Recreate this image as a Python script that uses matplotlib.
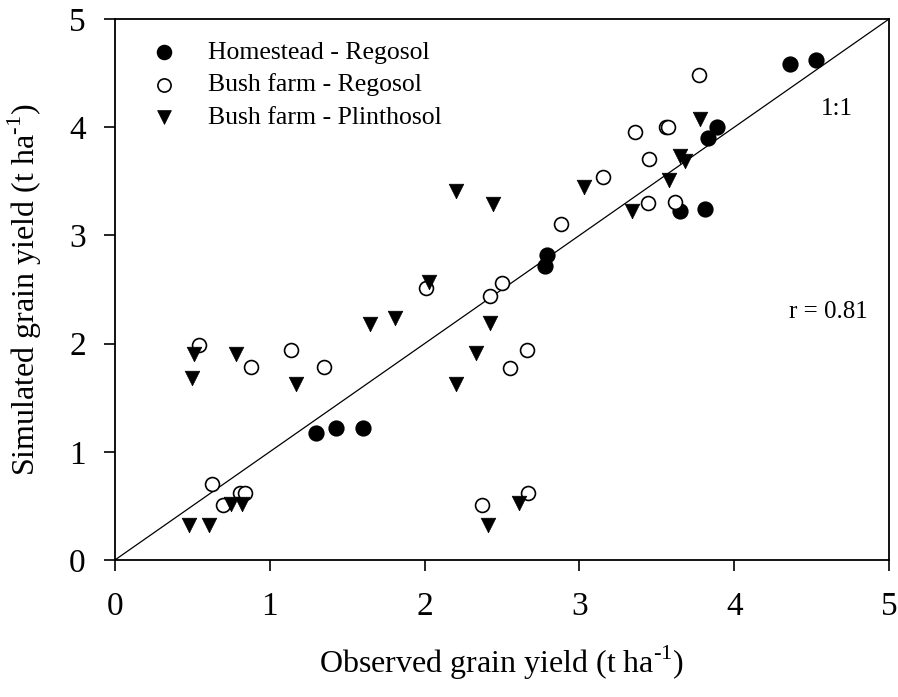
import matplotlib
matplotlib.use("Agg")
import matplotlib.pyplot as plt

plt.rcParams['font.family'] = ['Liberation Serif', 'DejaVu Serif']
plt.rcParams['mathtext.fontset'] = 'custom'
plt.rcParams['mathtext.rm'] = 'Liberation Serif'

# Homestead - Regosol
home_obs = [1.30, 1.43, 1.60, 2.78, 2.79, 3.65, 3.81, 3.83, 3.89, 4.36, 4.53]
home_sim = [1.17, 1.22, 1.22, 2.72, 2.82, 3.23, 3.24, 3.90, 4.00, 4.58, 4.62]

# Bush farm - Regosol
reg_obs = [0.54, 0.63, 0.70, 0.81, 0.84, 0.88, 1.14, 1.35, 2.01, 2.37, 2.42,
           2.50, 2.55, 2.66, 2.67, 2.88, 3.15, 3.36, 3.44, 3.45, 3.56, 3.57,
           3.62, 3.77]
reg_sim = [1.99, 0.70, 0.51, 0.62, 0.62, 1.78, 1.94, 1.78, 2.51, 0.51, 2.44,
           2.56, 1.77, 1.94, 0.62, 3.11, 3.54, 3.96, 3.30, 3.71, 4.00, 4.00,
           3.31, 4.48]

# Bush farm - Plinthosol
pli_obs = [0.48, 0.50, 0.51, 0.61, 0.75, 0.78, 0.82, 1.17, 1.65, 1.81, 2.03,
           2.20, 2.20, 2.33, 2.41, 2.42, 2.44, 2.61, 3.03, 3.34, 3.58, 3.65,
           3.68, 3.78]
pli_sim = [0.32, 1.68, 1.90, 0.32, 0.52, 1.90, 0.52, 1.63, 2.18, 2.24, 2.57,
           3.41, 1.63, 1.91, 0.32, 2.19, 3.29, 0.53, 3.45, 3.23, 3.51, 3.73,
           3.69, 4.08]

fig = plt.figure(figsize=(8.98, 6.97), dpi=100)
ax = fig.add_axes([0.128, 0.1966, 0.862, 0.7761])

ax.plot([0, 5], [0, 5], color='black', linewidth=0.9, zorder=1)

ax.scatter(home_obs, home_sim, s=110, marker='o', facecolor='black',
           edgecolor='black', linewidth=1.2, label='Homestead - Regosol', zorder=3)
ax.scatter(reg_obs, reg_sim, s=100, marker='o', facecolor='white',
           edgecolor='black', linewidth=1.2, label='Bush farm - Regosol', zorder=3)
ax.scatter(pli_obs, pli_sim, s=110, marker='v', facecolor='black',
           edgecolor='black', linewidth=0.5, label='Bush farm - Plinthosol', zorder=3)

ax.set_xlim(0, 5)
ax.set_ylim(0, 5)
ax.set_xticks([0, 1, 2, 3, 4, 5])
ax.set_yticks([0, 1, 2, 3, 4, 5])
ax.tick_params(direction='out', length=8, width=1.2, labelsize=24,
               top=False, right=False)
ax.tick_params(axis='x', pad=15)
ax.tick_params(axis='y', pad=13)
for sp in ax.spines.values():
    sp.set_linewidth(1.3)

ax.set_xlabel(r'Observed grain yield (t ha$^{\text{-1}}$)', fontsize=23,
              labelpad=15)
ax.set_ylabel(r'Simulated grain yield (t ha$^{\text{-1}}$)', fontsize=23,
              labelpad=18)

ax.text(4.66, 4.17, '1:1', fontsize=18, ha='center', va='center')
ax.text(4.865, 2.29, 'r = 0.81', fontsize=18, ha='right', va='center')

ax.legend(loc='upper left', frameon=False, fontsize=18.5, handletextpad=0.7,
          labelspacing=0.38, bbox_to_anchor=(0.03, 0.96),
          borderpad=0.0, borderaxespad=0.0, markerscale=0.95)

fig.savefig('out.png', dpi=100)
